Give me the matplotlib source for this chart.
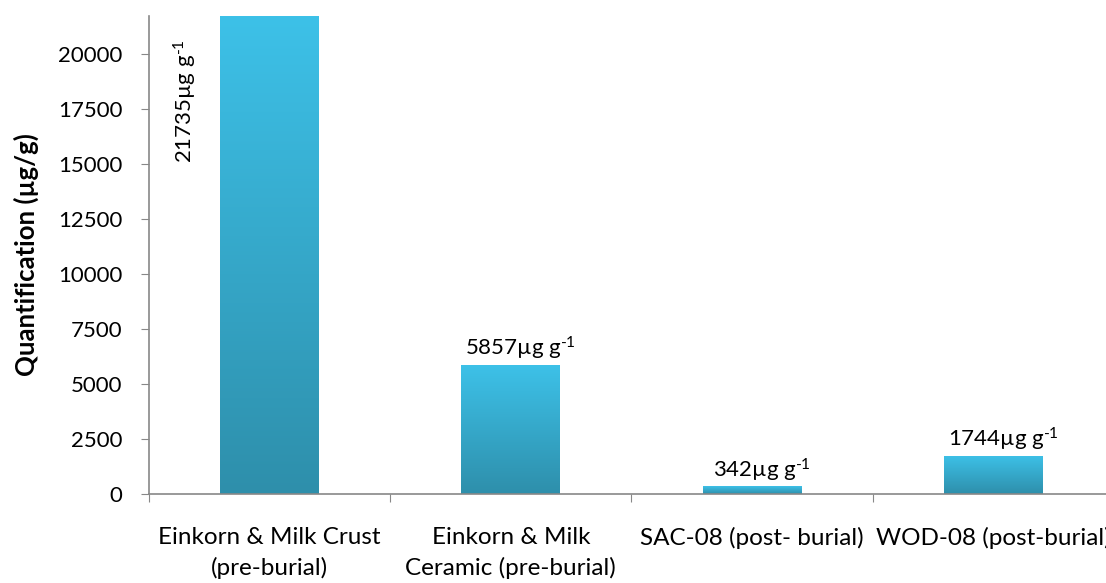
import numpy as np
import matplotlib
matplotlib.use("Agg")
import matplotlib.pyplot as plt
from matplotlib.colors import LinearSegmentedColormap

plt.rcParams['font.family'] = ['Lato', 'DejaVu Sans']
plt.rcParams['mathtext.fontset'] = 'custom'
plt.rcParams['mathtext.rm'] = 'Lato'
plt.rcParams['mathtext.default'] = 'regular'

categories = ['Einkorn & Milk Crust\n(pre-burial)',
              'Einkorn & Milk\nCeramic (pre-burial)',
              'SAC-08 (post- burial)',
              'WOD-08 (post-burial)']
values = [21735, 5857, 342, 1744]
value_labels = [r'21735µg g$^{\text{-}1}$', r'5857µg g$^{\text{-}1}$',
                r'342µg g$^{\text{-}1}$', r'1744µg g$^{\text{-}1}$']
yticks = [0, 2500, 5000, 7500, 10000, 12500, 15000, 17500, 20000]

fig = plt.figure(figsize=(11.06, 5.83), dpi=100)
ax = fig.add_axes([0.1347, 0.1527, 0.8725, 0.8199])

x = np.arange(len(values))
bars = ax.bar(x, values, width=0.41, color='none', edgecolor='none')

# vertical gradient per bar, light on top, dark at bottom
cmap = LinearSegmentedColormap.from_list('bar', ['#2e8fab', '#3dc1e8'])
grad = np.linspace(0, 1, 256).reshape(-1, 1)
for b in bars:
    x0, y0 = b.get_x(), b.get_y()
    im = ax.imshow(grad, cmap=cmap, origin='lower', aspect='auto',
                   extent=[x0, x0 + b.get_width(), y0, y0 + b.get_height()],
                   zorder=2)
    im.set_clip_path(b)

ax.set_xlim(-0.5, 3.5)
ax.set_ylim(0, 21750)

# value labels
ax.text(-0.35, 20700, value_labels[0], rotation=90, ha='center', va='top',
        fontsize=16, color='black')
for i in range(1, len(values)):
    ax.annotate(value_labels[i], (x[i], values[i]), xytext=(7, 2),
                textcoords='offset points', ha='center', va='bottom',
                fontsize=16, color='black')

ax.set_yticks(yticks)
ax.set_yticklabels([str(t) for t in yticks], fontsize=16)
ax.set_xticks(np.arange(-0.5, 4.0, 1.0))
ax.set_xticklabels([])
ax.set_xticks(x, minor=True)
ax.set_xticklabels(categories, minor=True, fontsize=17.5, linespacing=1.45)
ax.tick_params(axis='x', which='minor', length=0, pad=24)
ax.tick_params(axis='x', which='major', length=6, color='#888888', direction='out')
ax.tick_params(axis='y', length=6, color='#888888', direction='out', pad=13)

for s in ['top', 'right']:
    ax.spines[s].set_visible(False)
for s in ['left', 'bottom']:
    ax.spines[s].set_color('#888888')
    ax.spines[s].set_linewidth(1.2)

ax.set_ylabel('Quantification (µg/g)', fontsize=18.5, fontweight='bold')
ax.yaxis.set_label_coords(-0.114, 0.5)

fig.savefig('out.png', dpi=100)
